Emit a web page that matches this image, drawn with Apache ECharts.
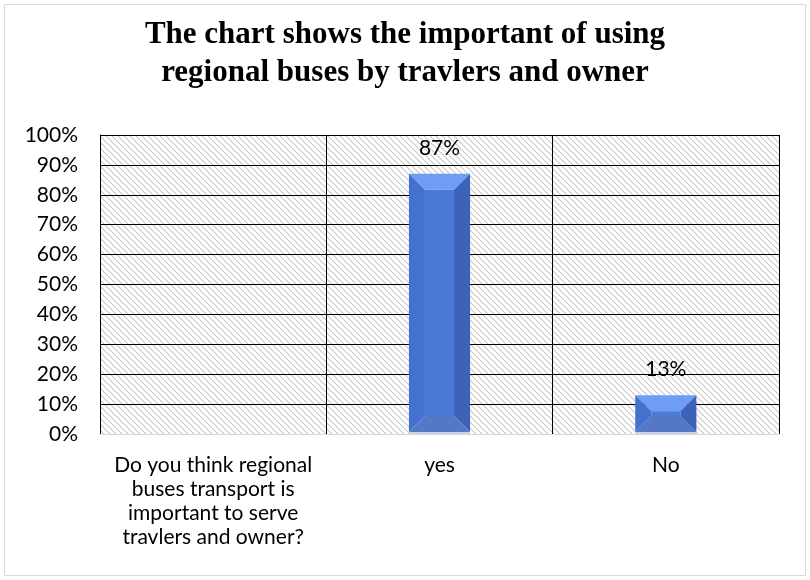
<!DOCTYPE html>
<html>
<head>
<meta charset="utf-8">
<script src="https://cdn.jsdelivr.net/npm/echarts@6/dist/echarts.min.js"></script>
<style>html,body{margin:0;padding:0;background:#fff}#c{width:810px;height:580px}</style>
</head>
<body>
<div id="c"></div>
<script>
const titleText = 'The chart shows the important of using\nregional buses by travlers and owner';
const categories = ['Do you think regional\nbuses transport is\nimportant to serve\ntravlers and owner?', 'yes', 'No'];
const values = [null, 0.87, 0.13];
const yTicks = { min: 0, max: 1, interval: 0.1 };

// hatch pattern
const pc = document.createElement('canvas');
pc.width = 6; pc.height = 6;
const px = pc.getContext('2d');
px.fillStyle = '#fff'; px.fillRect(0,0,6,6);
px.strokeStyle = '#c8c8c8'; px.lineWidth = 1.1;
px.beginPath();
px.moveTo(-1,-1); px.lineTo(7,7);
px.moveTo(-7,-1); px.lineTo(1,7);
px.moveTo(5,-1); px.lineTo(13,7);
px.stroke();

const chart = echarts.init(document.getElementById('c'), null, {renderer:'canvas'});
const font = 'Lato, "Noto Sans", sans-serif';

chart.setOption({
  animation: false,
  graphic: [{
    type: 'rect', shape: {x: 4.5, y: 4.5, width: 801, height: 571},
    style: {fill: 'none', stroke: '#d9d9d9', lineWidth: 1}, z: -10
  }],
  title: {
    text: titleText, left: 'center', top: 11,
    textStyle: {fontFamily: '"Liberation Serif", "Times New Roman", serif', fontWeight: 'bold', fontSize: 31, lineHeight: 38, color: '#000'}
  },
  grid: {left: 100, right: 31, top: 135, bottom: 146, show: true, borderWidth: 0,
    backgroundColor: {image: pc, repeat: 'repeat'}},
  xAxis: {
    type: 'category', data: categories, boundaryGap: true,
    axisLine: {show: true, lineStyle: {color: '#d9d9d9', width: 1}},
    axisTick: {show: false},
    splitLine: {show: true, lineStyle: {color: '#000', width: 1}},
    axisLabel: {fontFamily: font, fontSize: 21, color: '#000', lineHeight: 24, margin: 19, interval: 0}
  },
  yAxis: {
    type: 'value', min: yTicks.min, max: yTicks.max, interval: yTicks.interval,
    axisLine: {show: true, lineStyle: {color: '#000', width: 1}},
    axisTick: {show: false},
    splitLine: {show: true, showMinLine: false, lineStyle: {color: '#000', width: 1}},
    axisLabel: {fontFamily: font, fontSize: 21, color: '#000', margin: 22,
      formatter: v => Math.round(v*100) + '%'}
  },
  series: [{
    type: 'custom',
    data: values.map((v, i) => [i, v]),
    renderItem: function (params, api) {
      const v = api.value(1);
      if (v == null || isNaN(v)) return null;
      const top = api.coord([api.value(0), v]);
      const base = api.coord([api.value(0), 0]);
      const catW = api.size([1, 0])[0];
      const w = catW * 0.27;
      const x0 = top[0] - w/2, x1 = top[0] + w/2;
      const y0 = top[1], y1 = base[1] - 2;
      const h = y1 - y0;
      const b = Math.min(16, h/2, w/2);
      const poly = (pts, fill) => ({type: 'polygon', shape: {points: pts}, style: {fill: fill, stroke: null}});
      return {
        type: 'group',
        children: [
          {type: 'rect', shape: {x: x0, y: y1, width: w, height: 2}, style: {fill: '#c9d3ea'}},
          poly([[x0+b,y0+b],[x1-b,y0+b],[x1-b,y1-b],[x0+b,y1-b]], '#4a7ad6'),
          poly([[x0,y0],[x1,y0],[x1-b,y0+b],[x0+b,y0+b]], '#6f9cf4'),
          poly([[x0,y0],[x0+b,y0+b],[x0+b,y1-b],[x0,y1]], '#4471d0'),
          poly([[x1,y0],[x1,y1],[x1-b,y1-b],[x1-b,y0+b]], '#3c63b9'),
          poly([[x0,y1],[x1,y1],[x1-b,y1-b],[x0+b,y1-b]], '#5578c6'),
          {type: 'text', style: {text: Math.round(v*100) + '%', x: top[0], y: y0 - 26,
            align: 'center', verticalAlign: 'middle', font: '21px ' + font, fill: '#000'}}
        ]
      };
    },
    z: 5
  }]
});
</script>
</body>
</html>
